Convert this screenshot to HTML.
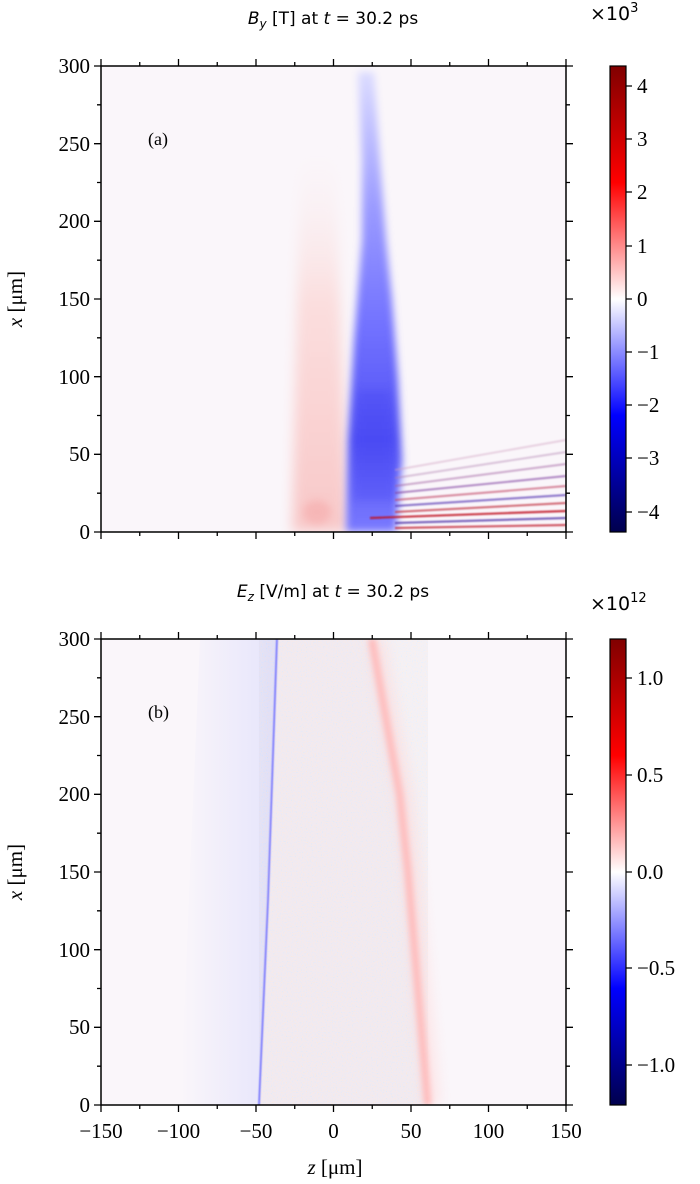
<!DOCTYPE html>
<html><head><meta charset="utf-8"><style>
html,body{margin:0;padding:0;background:#fff;width:700px;height:1184px;overflow:hidden}
svg text{font-family:"Liberation Serif","DejaVu Serif",serif}
</style></head><body>
<svg width="700" height="1184" viewBox="0 0 700 1184" xmlns="http://www.w3.org/2000/svg">
<defs>
<linearGradient id="cb" x1="0" y1="1" x2="0" y2="0">
<stop offset="0" stop-color="#00004d"/><stop offset="0.25" stop-color="#0000ff"/><stop offset="0.5" stop-color="#ffffff"/><stop offset="0.75" stop-color="#ff0000"/><stop offset="1" stop-color="#800000"/>
</linearGradient>
<linearGradient id="bl" x1="0" y1="0" x2="0" y2="1">
<stop offset="0" stop-color="#dcdcff"/><stop offset="0.3" stop-color="#9a9aff"/><stop offset="0.55" stop-color="#7272ff"/><stop offset="0.8" stop-color="#5050f4"/><stop offset="1" stop-color="#7a7aff"/>
</linearGradient>
<linearGradient id="rd" x1="0" y1="0" x2="0" y2="1">
<stop offset="0" stop-color="#fbeef0" stop-opacity="0"/><stop offset="0.4" stop-color="#fbdede"/><stop offset="1" stop-color="#f8c8c8"/>
</linearGradient>
<linearGradient id="lb" x1="1" y1="0" x2="0" y2="0">
<stop offset="0" stop-color="#dcdcfc"/><stop offset="1" stop-color="#faf6fa"/>
</linearGradient>
<filter id="b6" x="-50%" y="-50%" width="200%" height="200%"><feGaussianBlur stdDeviation="6"/></filter>
<filter id="b4" x="-50%" y="-50%" width="200%" height="200%"><feGaussianBlur stdDeviation="4"/></filter>
<filter id="b3" x="-50%" y="-50%" width="200%" height="200%"><feGaussianBlur stdDeviation="3"/></filter>
<filter id="b1"><feGaussianBlur stdDeviation="0.8"/></filter>
<filter id="noise" x="0" y="0" width="100%" height="100%">
<feTurbulence type="fractalNoise" baseFrequency="0.8" numOctaves="1" seed="3"/>
<feColorMatrix type="matrix" values="0 0 0 2 -0.5  0 0 0 0 0.45  0 0 0 -2 1.5  0 0 0 0 0.6"/>
</filter>
<clipPath id="c1"><rect x="101" y="66" width="465" height="466"/></clipPath>
<clipPath id="c2"><rect x="101" y="639" width="465" height="466"/></clipPath>
</defs>

<g clip-path="url(#c1)">
<rect x="101" y="66" width="465" height="466" fill="#faf6fa"/>
<polygon points="300,150 335,150 348,532 292,532" fill="url(#rd)" filter="url(#b6)"/>
<ellipse cx="317" cy="512" rx="14" ry="12" fill="#f6aaaa" opacity="0.6" filter="url(#b4)"/>
<polygon points="358,72 374,72 380,160 386,240 392,300 398,380 402,460 396,532 346,532 348,440 354,340 362,240 362,160" fill="url(#bl)" filter="url(#b4)"/>
<polygon points="358,390 390,390 394,500 354,500" fill="#3030f0" opacity="0.2" filter="url(#b4)"/>
<g filter="url(#b1)" stroke-width="2.2">
<line x1="395" y1="470" x2="566" y2="440" stroke="#d0a0c0" opacity="0.4"/>
<line x1="395" y1="478" x2="566" y2="452" stroke="#b080b0" opacity="0.4"/>
<line x1="395" y1="486" x2="566" y2="464" stroke="#a060a0" opacity="0.45"/>
<line x1="395" y1="493" x2="566" y2="476" stroke="#8040a0" opacity="0.55"/>
<line x1="395" y1="500" x2="566" y2="486" stroke="#c04060" opacity="0.55"/>
<line x1="395" y1="506" x2="566" y2="495" stroke="#5030b0" opacity="0.6"/>
<line x1="395" y1="512" x2="566" y2="503" stroke="#c03040" opacity="0.65"/>
<line x1="370" y1="518" x2="566" y2="511" stroke="#c01020" opacity="0.8"/>
<line x1="395" y1="523" x2="566" y2="518" stroke="#4020a0" opacity="0.65"/>
<line x1="395" y1="528" x2="566" y2="525" stroke="#c02030" opacity="0.7"/>
</g>
</g>
<text x="148" y="145" font-size="18">(a)</text>

<g clip-path="url(#c2)">
<rect x="101" y="639" width="465" height="466" fill="#faf6fa"/>
<polygon points="200,639 277,639 259,1105 180,1105" fill="url(#lb)" opacity="0.7"/>
<polygon points="277,639 372,639 400,795 410,870 428,1105 259,1105" fill="#f7f0f5"/>
<polygon points="277,639 372,639 400,795 410,870 428,1105 259,1105" fill="#000" filter="url(#noise)" opacity="0.14"/>
<polyline points="277,639 268,900 259,1105" fill="none" stroke="#6a6aff" stroke-width="1.6" filter="url(#b1)"/>
<polyline points="372,639 390,740 400,795 408,870 428,1105" fill="none" stroke="#ffb0b0" stroke-width="7" filter="url(#b3)"/>
<polyline points="376,639 394,740 404,795 412,870 432,1105" fill="none" stroke="#ffd0d0" stroke-width="18" opacity="0.4" filter="url(#b6)"/>
</g>
<text x="148" y="718" font-size="18">(b)</text>

<text x="333" y="24" font-size="17" text-anchor="middle" style="font-family:'DejaVu Sans',sans-serif"><tspan font-style="italic">B</tspan><tspan font-size="12" dy="4" font-style="italic">y</tspan><tspan dy="-4"> [T] at </tspan><tspan font-style="italic">t</tspan> = 30.2 ps</text>
<text x="333" y="597" font-size="17" text-anchor="middle" style="font-family:'DejaVu Sans',sans-serif"><tspan font-style="italic">E</tspan><tspan font-size="12" dy="4" font-style="italic">z</tspan><tspan dy="-4"> [V/m] at </tspan><tspan font-style="italic">t</tspan> = 30.2 ps</text>

<rect x="101" y="66" width="465" height="466" stroke="#000" stroke-width="1.5" fill="none"/>
<rect x="101" y="639" width="465" height="466" stroke="#000" stroke-width="1.5" fill="none"/>
<g stroke="#000" stroke-width="1.3">
<path d="M101,66v-7M178.5,66v-7M256,66v-7M333.5,66v-7M411,66v-7M488.5,66v-7M566,66v-7
M139.75,66v-4M217.25,66v-4M294.75,66v-4M372.25,66v-4M449.75,66v-4M527.25,66v-4
M101,532v7M178.5,532v7M256,532v7M333.5,532v7M411,532v7M488.5,532v7M566,532v7
M139.75,532v4M217.25,532v4M294.75,532v4M372.25,532v4M449.75,532v4M527.25,532v4
M101,639v-7M178.5,639v-7M256,639v-7M333.5,639v-7M411,639v-7M488.5,639v-7M566,639v-7
M139.75,639v-4M217.25,639v-4M294.75,639v-4M372.25,639v-4M449.75,639v-4M527.25,639v-4
M101,1105v7M178.5,1105v7M256,1105v7M333.5,1105v7M411,1105v7M488.5,1105v7M566,1105v7
M139.75,1105v4M217.25,1105v4M294.75,1105v4M372.25,1105v4M449.75,1105v4M527.25,1105v4"/>
<path d="M101,66h-7M101,143.7h-7M101,221.3h-7M101,299h-7M101,376.7h-7M101,454.3h-7M101,532h-7
M101,104.8h-4M101,182.5h-4M101,260.2h-4M101,337.8h-4M101,415.5h-4M101,493.2h-4
M566,66h7M566,143.7h7M566,221.3h7M566,299h7M566,376.7h7M566,454.3h7M566,532h7
M566,104.8h4M566,182.5h4M566,260.2h4M566,337.8h4M566,415.5h4M566,493.2h4
M101,639h-7M101,716.7h-7M101,794.3h-7M101,872h-7M101,949.7h-7M101,1027.3h-7M101,1105h-7
M101,677.8h-4M101,755.5h-4M101,833.2h-4M101,910.8h-4M101,988.5h-4M101,1066.2h-4
M566,639h7M566,716.7h7M566,794.3h7M566,872h7M566,949.7h7M566,1027.3h7M566,1105h7
M566,677.8h4M566,755.5h4M566,833.2h4M566,910.8h4M566,988.5h4M566,1066.2h4"/>
</g>
<g font-size="21" text-anchor="end" fill="#000">
<text x="90" y="73">300</text><text x="90" y="151">250</text><text x="90" y="228">200</text><text x="90" y="306">150</text><text x="90" y="384">100</text><text x="90" y="461">50</text><text x="90" y="539">0</text>
<text x="90" y="646">300</text><text x="90" y="724">250</text><text x="90" y="801">200</text><text x="90" y="879">150</text><text x="90" y="957">100</text><text x="90" y="1034">50</text><text x="90" y="1112">0</text>
</g>
<g font-size="21" text-anchor="middle">
<text x="101" y="1138">−150</text><text x="178.5" y="1138">−100</text><text x="256" y="1138">−50</text><text x="333.5" y="1138">0</text><text x="411" y="1138">50</text><text x="488.5" y="1138">100</text><text x="566" y="1138">150</text>
<text x="335" y="1174"><tspan font-style="italic">z</tspan> [μm]</text>
</g>
<text transform="translate(22,299) rotate(-90)" font-size="21" text-anchor="middle"><tspan font-style="italic">x</tspan> [μm]</text>
<text transform="translate(22,872) rotate(-90)" font-size="21" text-anchor="middle"><tspan font-style="italic">x</tspan> [μm]</text>

<rect x="610" y="66" width="16" height="466" fill="url(#cb)" stroke="#000" stroke-width="1.2"/>
<rect x="610" y="639" width="16" height="466" fill="url(#cb)" stroke="#000" stroke-width="1.2"/>
<g stroke="#000" stroke-width="1.3">
<path d="M626,86h6M626,139h6M626,192h6M626,246h6M626,299h6M626,352h6M626,405h6M626,458h6M626,512h6
M626,678h6M626,775h6M626,872h6M626,968h6M626,1065h6"/>
</g>
<g font-size="21" fill="#000">
<text x="637" y="93">4</text><text x="637" y="146">3</text><text x="637" y="199">2</text><text x="637" y="253">1</text><text x="637" y="306">0</text><text x="637" y="359">−1</text><text x="637" y="412">−2</text><text x="637" y="465">−3</text><text x="637" y="519">−4</text>
<text x="637" y="685">1.0</text><text x="637" y="782">0.5</text><text x="637" y="879">0.0</text><text x="637" y="975">−0.5</text><text x="637" y="1072">−1.0</text>
<text x="590" y="20" font-size="19" style="font-family:'DejaVu Sans',sans-serif">×10<tspan font-size="13" dy="-8">3</tspan></text>
<text x="590" y="610" font-size="19" style="font-family:'DejaVu Sans',sans-serif">×10<tspan font-size="13" dy="-8">12</tspan></text>
</g>
</svg>
</body></html>
